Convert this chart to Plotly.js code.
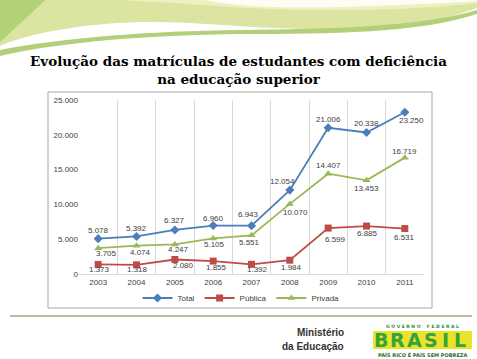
<!DOCTYPE html>
<html>
<head>
<meta charset="utf-8">
<script src="https://cdn.plot.ly/plotly-3.0.1.min.js"></script>
<style>html,body{margin:0;padding:0;background:#fff;}#chart{width:477px;height:359px;}</style>
</head>
<body>
<div id="chart"></div>
<script>
const years = ['2003','2004','2005','2006','2007','2008','2009','2010','2011'];
const total = [5078, 5392, 6327, 6960, 6943, 12054, 21006, 20338, 23250];
const publica = [1373, 1318, 2080, 1855, 1392, 1984, 6599, 6885, 6531];
const privada = [3705, 4074, 4247, 5105, 5551, 10070, 14407, 13453, 16719];
const yTicks = [0, 5000, 10000, 15000, 20000, 25000];

// label offsets (pixels) relative to each marker: [dx, dy(up)]
const totalShift   = [[0,8],[0,8],[0,9],[0,7],[-3,11],[-7,9],[0,8],[0,9],[7,-8]];
const publicaShift = [[1,-5],[1,-5],[9,-6],[3,-6],[6,-5],[2,-7],[7,-11],[1,-7],[0,-9]];
const privadaShift = [[8,-5],[4,-7],[4,-5],[1,-6],[-2,-7],[6,-9],[0,8],[0,-8],[0,6]];

const W = 477, H = 359, L = 79, R = 424, T = 100, B = 274;
function px(x){ return (x - L) / (R - L); }
function py(y){ return (B - y) / (B - T); }
function pth(s){
  return s.replace(/(-?[\d.]+),(-?[\d.]+)/g, (m,a,b) => px(+a).toFixed(4) + ',' + py(+b).toFixed(4));
}
function fmt(v){ return String(v).replace(/\B(?=(\d{3})+(?!\d))/g, '.'); }

const font = 'Liberation Sans, Arial, sans-serif';
const labelFont = {family: font, size: 8, color: '#404040'};

const traces = [
  {x: years, y: total, name: 'Total', type: 'scatter', mode: 'lines+markers',
   line: {color: '#4a7ebb', width: 1.8}, marker: {symbol: 'diamond', size: 7, color: '#4a7ebb'}, cliponaxis: false},
  {x: years, y: publica, name: 'Pública', type: 'scatter', mode: 'lines+markers',
   line: {color: '#be4b48', width: 1.8}, marker: {symbol: 'square', size: 7, color: '#be4b48'}, cliponaxis: false},
  {x: years, y: privada, name: 'Privada', type: 'scatter', mode: 'lines+markers',
   line: {color: '#98b954', width: 1.8}, marker: {symbol: 'triangle-up', size: 7, color: '#98b954'}, cliponaxis: false}
];

const shapes = [
  // top decoration
  {type:'path', xref:'paper', yref:'paper', layer:'below', line:{width:0}, fillcolor:'#dce4a2',
   path: pth('M0,0 L477,0 L477,8 C440,22 400,27 330,29 C260,30 200,21 140,22 C80,24 30,33 0,46 Z')},
  {type:'path', xref:'paper', yref:'paper', layer:'below', line:{width:0}, fillcolor:'#f2f3c8', opacity:0.8,
   path: pth('M120,0 L477,0 L477,3 C420,10 330,12 250,8 C200,5 160,2 120,0 Z')},
  {type:'path', xref:'paper', yref:'paper', layer:'below', line:{width:0}, fillcolor:'#ffffff', opacity:0.85,
   path: pth('M205,0 C230,6 280,9 340,7 C400,5 450,3 477,1 L477,0 Z')},
  {type:'path', xref:'paper', yref:'paper', layer:'below', line:{width:0}, fillcolor:'#a5cc6a', opacity:0.75,
   path: pth('M0,0 L45,0 C30,15 15,28 0,42 Z')},
  {type:'path', xref:'paper', yref:'paper', layer:'below', line:{width:0}, fillcolor:'#b3cf7a',
   path: pth('M0,50 C60,38 150,31 240,30 C330,29 420,27 477,10 L477,14 C420,33 330,34 240,34 C150,35 60,42 0,56 Z')},
  // chart box
  {type:'rect', xref:'paper', yref:'paper', layer:'below', x0:px(48), x1:px(432), y0:py(308), y1:py(92),
   line:{color:'#a6a6a6', width:1}, fillcolor:'#ffffff'},
  // bottom line
  {type:'line', xref:'paper', yref:'paper', x0:px(10), x1:px(472), y0:py(316), y1:py(316),
   line:{color:'#a5a37a', width:1.5}},
  // logo yellow band
  {type:'rect', xref:'paper', yref:'paper', layer:'below', x0:px(373), x1:px(472), y0:py(349), y1:py(331),
   line:{width:0}, fillcolor:'#e9e32c'}
];

const annotations = [];
function addLabels(vals, shifts){
  vals.forEach((v, i) => {
    annotations.push({xref:'x', yref:'y', x: i, y: v, text: fmt(v), showarrow: false,
      xanchor:'center', yanchor:'middle', xshift: shifts[i][0], yshift: shifts[i][1], font: labelFont});
  });
}
addLabels(total, totalShift);
addLabels(publica, publicaShift);
addLabels(privada, privadaShift);

const logoFont = 'DejaVu Sans, sans-serif';
annotations.push(
  {xref:'paper', yref:'paper', x:px(346), y:py(332), xanchor:'right', yanchor:'middle', showarrow:false,
   text:'<b>Ministério</b>', font:{family:font, size:10, color:'#333333'}},
  {xref:'paper', yref:'paper', x:px(346), y:py(346), xanchor:'right', yanchor:'middle', showarrow:false,
   text:'<b>da Educação</b>', font:{family:font, size:10, color:'#333333'}},
  {xref:'paper', yref:'paper', x:px(422), y:py(326), xanchor:'center', yanchor:'middle', showarrow:false,
   text:'<b>G O V E R N O    F E D E R A L</b>', font:{family:logoFont, size:4.5, color:'#2a8f3a'}},
  {xref:'paper', yref:'paper', x:px(422), y:py(355), xanchor:'center', yanchor:'middle', showarrow:false,
   text:'<b>PAÍS RICO É PAÍS SEM POBREZA</b>', font:{family:logoFont, size:5, color:'#1f6f30'}}
);
const logoLetters = ['B','R','A','S','I','L'];
const letterX = [381, 397, 414, 431, 445, 460];
logoLetters.forEach((c, i) => {
  annotations.push({xref:'paper', yref:'paper', x:px(letterX[i]), y:py(340), xanchor:'center', yanchor:'middle',
    showarrow:false, text:'<b>' + c + '</b>', font:{family:logoFont, size:19, color:'#36a23d'}});
});

const layout = {
  width: W, height: H,
  margin: {l: L, r: W - R, t: T, b: H - B, pad: 0},
  paper_bgcolor: '#ffffff', plot_bgcolor: 'rgba(0,0,0,0)',
  separators: ',.',
  title: {text: '<b>Evolução das matrículas de estudantes com deficiência<br>na educação superior</b>',
          font: {family: 'DejaVu Serif, serif', size: 13.5, color: '#000000'},
          x: 0.5, xref: 'container', xanchor: 'center', y: 1 - 66/H, yref: 'container', yanchor: 'top'},
  showlegend: true,
  legend: {orientation: 'h', x: px(241), xanchor: 'center', y: py(298), yanchor: 'middle',
           font: {family: font, size: 8, color: '#404040'}, bgcolor: 'rgba(0,0,0,0)', itemwidth: 30},
  xaxis: {type: 'category', range: [-0.5, years.length - 0.5], tickson: 'boundaries', showgrid: true,
          gridcolor: '#d9d9d9', gridwidth: 1, ticks: '', showline: true, linecolor: '#d9d9d9', zeroline: false,
          tickfont: {family: font, size: 8, color: '#404040'}, fixedrange: true},
  yaxis: {range: [0, 25000], tickvals: yTicks, tickformat: ',.0f', showgrid: false, zeroline: false,
          showline: false, ticks: '', tickfont: {family: font, size: 8, color: '#404040'}, fixedrange: true},
  shapes: shapes,
  annotations: annotations
};

Plotly.newPlot('chart', traces, layout, {displayModeBar: false, staticPlot: true});
</script>
</body>
</html>
